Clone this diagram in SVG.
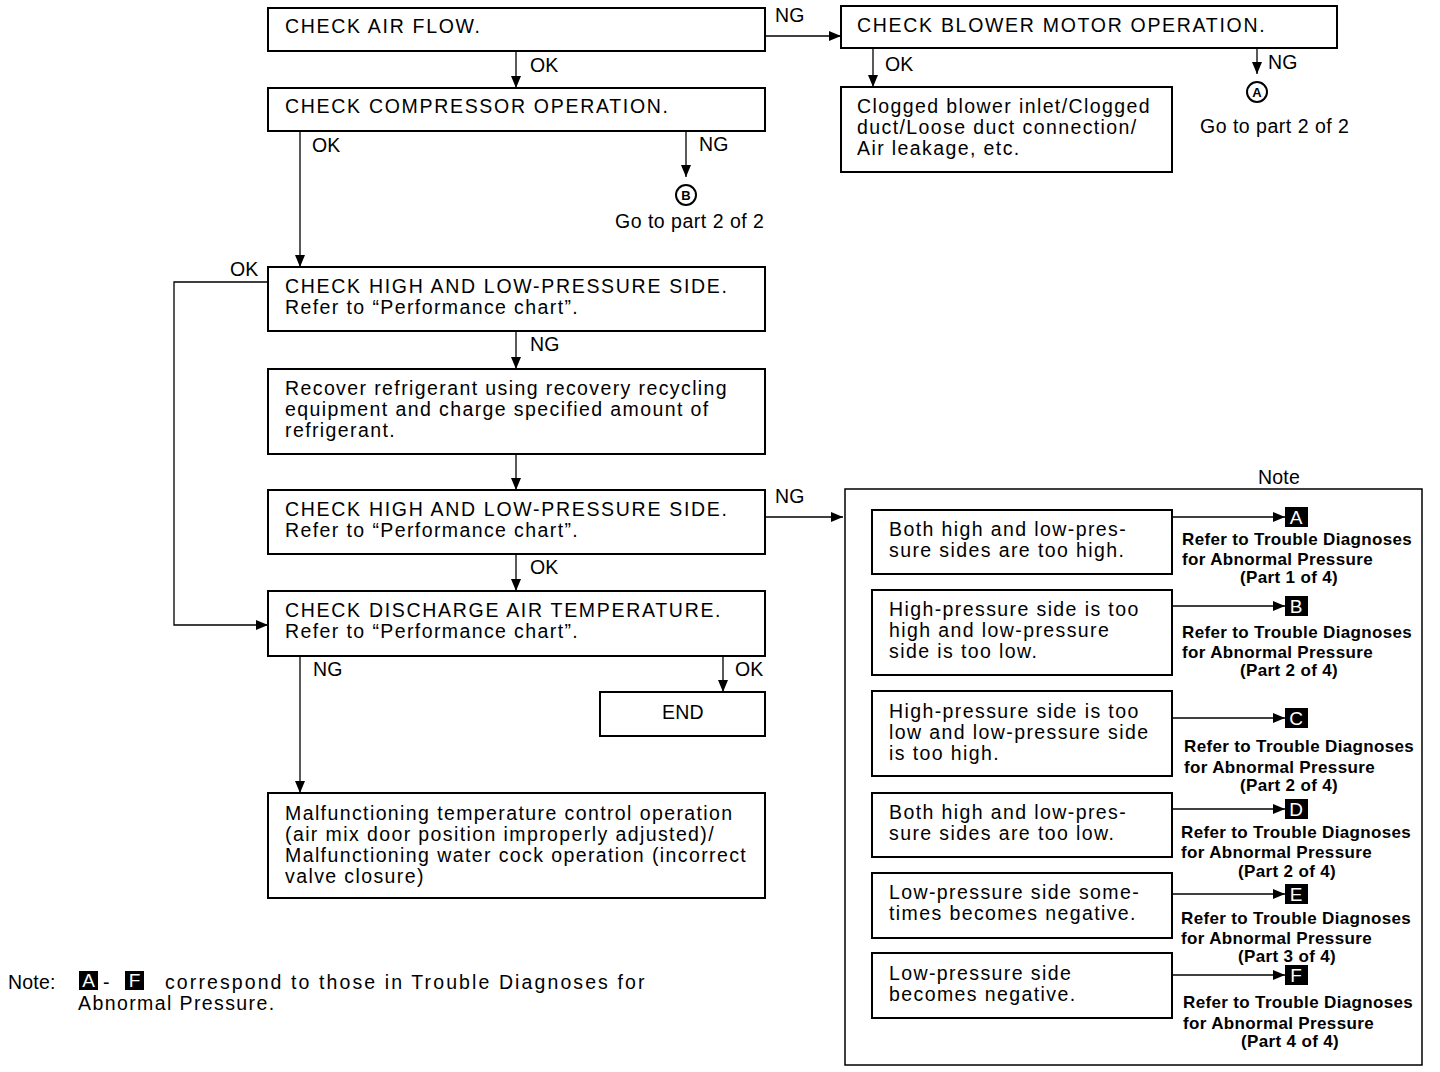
<svg xmlns="http://www.w3.org/2000/svg" width="1440" height="1072" viewBox="0 0 1440 1072">
<defs>
<style>
.box{fill:#fff;stroke:#000;stroke-width:2}
.ln{fill:none;stroke:#000;stroke-width:1.3}
.t{font-family:"Liberation Sans",Arial,sans-serif;font-size:19.5px;fill:#000;letter-spacing:1.4px}
.c{letter-spacing:1.7px}
.g{letter-spacing:0.2px}
.p{letter-spacing:0.5px}
.f{letter-spacing:2.1px}
.b{font-family:"Liberation Sans",Arial,sans-serif;font-size:17px;font-weight:bold;fill:#000;letter-spacing:0.35px}
.sq{fill:#000}
.w{font-family:"Liberation Sans",Arial,sans-serif;font-size:19px;fill:#fff;text-anchor:middle}
.circ{fill:#fff;stroke:#000;stroke-width:2}
.cl{font-family:"Liberation Sans",Arial,sans-serif;font-size:13px;font-weight:bold;fill:#000;text-anchor:middle}
</style>
<marker id="ar" markerWidth="12" markerHeight="10" refX="12" refY="5" orient="auto" markerUnits="userSpaceOnUse">
<path d="M0,0 L12,5 L0,10 Z" fill="#000"/>
</marker>
</defs>
<rect width="1440" height="1072" fill="#fff"/>

<g id="connectors">
<path class="ln" d="M765,36 H841" marker-end="url(#ar)"/>
<path class="ln" d="M516,51 V88" marker-end="url(#ar)"/>
<path class="ln" d="M873,48 V87" marker-end="url(#ar)"/>
<path class="ln" d="M1257,48 V74" marker-end="url(#ar)"/>
<path class="ln" d="M686,131 V177" marker-end="url(#ar)"/>
<path class="ln" d="M300,131 V267" marker-end="url(#ar)"/>
<path class="ln" d="M268,282 H174 V625 H268" marker-end="url(#ar)"/>
<path class="ln" d="M516,331 V369" marker-end="url(#ar)"/>
<path class="ln" d="M516,454 V490" marker-end="url(#ar)"/>
<path class="ln" d="M765,517 H843" marker-end="url(#ar)"/>
<path class="ln" d="M516,554 V591" marker-end="url(#ar)"/>
<path class="ln" d="M300,656 V793" marker-end="url(#ar)"/>
<path class="ln" d="M723,656 V692" marker-end="url(#ar)"/>
<path class="ln" d="M1172,517 H1285" marker-end="url(#ar)"/>
<path class="ln" d="M1172,606 H1285" marker-end="url(#ar)"/>
<path class="ln" d="M1172,718 H1285" marker-end="url(#ar)"/>
<path class="ln" d="M1172,809 H1285" marker-end="url(#ar)"/>
<path class="ln" d="M1172,894 H1285" marker-end="url(#ar)"/>
<path class="ln" d="M1172,975 H1285" marker-end="url(#ar)"/>
<text class="t g" x="775" y="22">NG</text>
<text class="t g" x="530" y="72">OK</text>
<text class="t g" x="885" y="71">OK</text>
<text class="t g" x="1268" y="69">NG</text>
<text class="t g" x="699" y="151">NG</text>
<text class="t g" x="312" y="152">OK</text>
<text class="t g" x="230" y="276">OK</text>
<text class="t g" x="530" y="351">NG</text>
<text class="t g" x="775" y="503">NG</text>
<text class="t g" x="530" y="574">OK</text>
<text class="t g" x="313" y="676">NG</text>
<text class="t g" x="735" y="676">OK</text>
</g>

<g id="n-airflow"><rect class="box" x="268" y="8" width="497" height="43"/><text class="t c" x="285" y="33">CHECK AIR FLOW.</text></g>
<g id="n-blower"><rect class="box" x="841" y="6" width="496" height="42"/><text class="t c" x="857" y="32">CHECK BLOWER MOTOR OPERATION.</text></g>
<g id="n-compressor"><rect class="box" x="268" y="88" width="497" height="43"/><text class="t c" x="285" y="113">CHECK COMPRESSOR OPERATION.</text></g>
<g id="n-clogged"><rect class="box" x="841" y="87" width="331" height="85"/><text class="t" x="857" y="113">Clogged blower inlet/Clogged</text><text class="t" x="857" y="134">duct/Loose duct connection/</text><text class="t" x="857" y="155">Air leakage, etc.</text></g>
<g id="n-goA"><circle class="circ" cx="1257" cy="92" r="10"/><text class="cl" x="1257" y="97">A</text><text class="t p" x="1200" y="133">Go to part 2 of 2</text></g>
<g id="n-goB"><circle class="circ" cx="686" cy="195" r="10"/><text class="cl" x="686" y="200">B</text><text class="t p" x="615" y="228">Go to part 2 of 2</text></g>
<g id="n-check1"><rect class="box" x="268" y="267" width="497" height="64"/><text class="t c" x="285" y="293">CHECK HIGH AND LOW-PRESSURE SIDE.</text><text class="t" x="285" y="314">Refer to “Performance chart”.</text></g>
<g id="n-recover"><rect class="box" x="268" y="369" width="497" height="85"/><text class="t" x="285" y="395">Recover refrigerant using recovery recycling</text><text class="t" x="285" y="416">equipment and charge specified amount of</text><text class="t" x="285" y="437">refrigerant.</text></g>
<g id="n-check2"><rect class="box" x="268" y="490" width="497" height="64"/><text class="t c" x="285" y="516">CHECK HIGH AND LOW-PRESSURE SIDE.</text><text class="t" x="285" y="537">Refer to “Performance chart”.</text></g>
<g id="n-discharge"><rect class="box" x="268" y="591" width="497" height="65"/><text class="t c" x="285" y="617">CHECK DISCHARGE AIR TEMPERATURE.</text><text class="t" x="285" y="638">Refer to “Performance chart”.</text></g>
<g id="n-end"><rect class="box" x="600" y="692" width="165" height="44"/><text class="t g" x="683" y="719" text-anchor="middle">END</text></g>
<g id="n-malf"><rect class="box" x="268" y="793" width="497" height="105"/><text class="t" x="285" y="820">Malfunctioning temperature control operation</text><text class="t" x="285" y="841">(air mix door position improperly adjusted)/</text><text class="t" x="285" y="862">Malfunctioning water cock operation (incorrect</text><text class="t" x="285" y="883">valve closure)</text></g>

<g id="n-note">
<text class="t g" x="1258" y="484">Note</text>
<rect x="845" y="489" width="577" height="576" fill="none" stroke="#000" stroke-width="1.5"/>
</g>
<g id="n-condA"><rect class="box" x="872" y="510" width="300" height="64"/><text class="t" x="889" y="536">Both high and low-pres-</text><text class="t" x="889" y="557">sure sides are too high.</text></g>
<g id="n-condB"><rect class="box" x="872" y="590" width="300" height="85"/><text class="t" x="889" y="616">High-pressure side is too</text><text class="t" x="889" y="637">high and low-pressure</text><text class="t" x="889" y="658">side is too low.</text></g>
<g id="n-condC"><rect class="box" x="872" y="691" width="300" height="85"/><text class="t" x="889" y="718">High-pressure side is too</text><text class="t" x="889" y="739">low and low-pressure side</text><text class="t" x="889" y="760">is too high.</text></g>
<g id="n-condD"><rect class="box" x="872" y="793" width="300" height="64"/><text class="t" x="889" y="819">Both high and low-pres-</text><text class="t" x="889" y="840">sure sides are too low.</text></g>
<g id="n-condE"><rect class="box" x="872" y="873" width="300" height="65"/><text class="t" x="889" y="899">Low-pressure side some-</text><text class="t" x="889" y="920">times becomes negative.</text></g>
<g id="n-condF"><rect class="box" x="872" y="953" width="300" height="65"/><text class="t" x="889" y="980">Low-pressure side</text><text class="t" x="889" y="1001">becomes negative.</text></g>

<g id="n-refA"><rect class="sq" x="1285" y="507" width="23" height="20"/><text class="w" x="1296" y="524">A</text><text class="b" x="1182" y="545">Refer to Trouble Diagnoses</text><text class="b" x="1182" y="565">for Abnormal Pressure</text><text class="b" x="1240" y="583">(Part 1 of 4)</text></g>
<g id="n-refB"><rect class="sq" x="1285" y="596" width="23" height="20"/><text class="w" x="1296" y="613">B</text><text class="b" x="1182" y="638">Refer to Trouble Diagnoses</text><text class="b" x="1182" y="658">for Abnormal Pressure</text><text class="b" x="1240" y="676">(Part 2 of 4)</text></g>
<g id="n-refC"><rect class="sq" x="1285" y="708" width="23" height="20"/><text class="w" x="1296" y="725">C</text><text class="b" x="1184" y="752">Refer to Trouble Diagnoses</text><text class="b" x="1184" y="773">for Abnormal Pressure</text><text class="b" x="1240" y="791">(Part 2 of 4)</text></g>
<g id="n-refD"><rect class="sq" x="1285" y="799" width="23" height="20"/><text class="w" x="1296" y="816">D</text><text class="b" x="1181" y="838">Refer to Trouble Diagnoses</text><text class="b" x="1181" y="858">for Abnormal Pressure</text><text class="b" x="1238" y="877">(Part 2 of 4)</text></g>
<g id="n-refE"><rect class="sq" x="1285" y="884" width="23" height="20"/><text class="w" x="1296" y="901">E</text><text class="b" x="1181" y="924">Refer to Trouble Diagnoses</text><text class="b" x="1181" y="944">for Abnormal Pressure</text><text class="b" x="1238" y="962">(Part 3 of 4)</text></g>
<g id="n-refF"><rect class="sq" x="1285" y="965" width="23" height="20"/><text class="w" x="1296" y="982">F</text><text class="b" x="1183" y="1008">Refer to Trouble Diagnoses</text><text class="b" x="1183" y="1029">for Abnormal Pressure</text><text class="b" x="1241" y="1047">(Part 4 of 4)</text></g>

<g id="n-footnote">
<text class="t g" x="8" y="989">Note:</text>
<rect class="sq" x="79" y="971" width="19" height="19"/><text class="w" x="88.5" y="987" font-size="17">A</text>
<text class="t g" x="103" y="989">-</text>
<rect class="sq" x="125" y="971" width="19" height="19"/><text class="w" x="134.5" y="987" font-size="17">F</text>
<text class="t f" x="165" y="989">correspond to those in Trouble Diagnoses for</text>
<text class="t" x="78" y="1010">Abnormal Pressure.</text>
</g>
</svg>
